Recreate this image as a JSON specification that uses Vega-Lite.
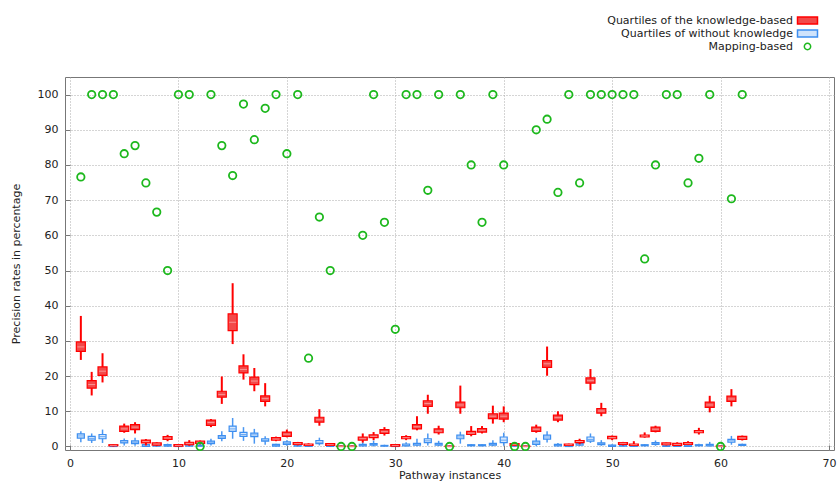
{
  "$schema": "https://vega.github.io/schema/vega-lite/v6.json",
  "autosize": "none",
  "width": 769,
  "height": 373,
  "padding": {"left": 65, "top": 77, "right": 6, "bottom": 34},
  "background": "white",
  "config": {
    "font": "DejaVu Sans",
    "view": {"stroke": "#777", "strokeWidth": 1},
    "axis": {
      "labelFont": "DejaVu Sans", "labelFontSize": 11, "labelColor": "#222",
      "titleFont": "DejaVu Sans", "titleFontSize": 11, "titleFontWeight": "normal", "titleColor": "#222",
      "grid": true, "gridColor": "#aaa", "gridDash": [1, 2], "gridWidth": 1,
      "domain": false, "tickColor": "#777", "tickSize": -5
    },
    "axisY": {"tickCount": 11},
    "legend": {
      "title": null, "orient": "none", "legendX": 737, "legendY": -62,
      "labelAlign": "right", "labelOffset": -20, "labelFontSize": 11, "labelFont": "DejaVu Sans", "labelColor": "#222",
      "labelLimit": 400, "symbolSize": 40, "rowPadding": 0, "symbolStrokeWidth": 1.5, "symbolOpacity": 1
    }
  },
  "data": {"values": [
    {"i":1,"rmin":24.6,"rq1":27.0,"rmed":28.3,"rq3":29.7,"rmax":37.1,"bmin":1.2,"bq1":2.4,"bmed":3.0,"bq3":3.6,"bmax":4.3,"g":76.6},
    {"i":2,"rmin":14.5,"rq1":16.6,"rmed":17.6,"rq3":18.7,"rmax":21.2,"bmin":1.0,"bq1":1.8,"bmed":2.3,"bq3":2.9,"bmax":3.7,"g":100},
    {"i":3,"rmin":18.2,"rq1":20.2,"rmed":21.4,"rq3":22.6,"rmax":26.5,"bmin":1.0,"bq1":2.2,"bmed":2.8,"bq3":3.4,"bmax":4.8,"g":100},
    {"i":4,"rmin":0,"rq1":0.2,"rmed":0.3,"rq3":0.5,"rmax":0.6,"bmin":0,"bq1":0,"bmed":0.1,"bq3":0.3,"bmax":0.4,"g":100},
    {"i":5,"rmin":3.9,"rq1":4.3,"rmed":5.0,"rq3":5.8,"rmax":6.5,"bmin":0.3,"bq1":1.0,"bmed":1.3,"bq3":1.7,"bmax":2.3,"g":83.2},
    {"i":6,"rmin":3.7,"rq1":4.8,"rmed":5.5,"rq3":6.2,"rmax":6.9,"bmin":0.2,"bq1":0.8,"bmed":1.2,"bq3":1.6,"bmax":2.5,"g":85.5},
    {"i":7,"rmin":0.3,"rq1":1.0,"rmed":1.4,"rq3":1.8,"rmax":2.1,"bmin":0,"bq1":0,"bmed":0.2,"bq3":0.5,"bmax":1.2,"g":74.9},
    {"i":8,"rmin":0.1,"rq1":0.4,"rmed":0.7,"rq3":1.0,"rmax":1.2,"bmin":0,"bq1":0.1,"bmed":0.3,"bq3":0.6,"bmax":1.0,"g":66.6},
    {"i":9,"rmin":1.5,"rq1":2.0,"rmed":2.4,"rq3":2.8,"rmax":3.3,"bmin":0,"bq1":0.1,"bmed":0.3,"bq3":0.5,"bmax":0.8,"g":50.0},
    {"i":10,"rmin":0,"rq1":0.1,"rmed":0.3,"rq3":0.5,"rmax":0.6,"bmin":0,"bq1":0,"bmed":0.1,"bq3":0.3,"bmax":0.4,"g":100},
    {"i":11,"rmin":0.2,"rq1":0.5,"rmed":0.8,"rq3":1.2,"rmax":1.8,"bmin":0,"bq1":0.1,"bmed":0.3,"bq3":0.6,"bmax":1.2,"g":100},
    {"i":12,"rmin":0.6,"rq1":0.9,"rmed":1.2,"rq3":1.5,"rmax":1.7,"bmin":0,"bq1":0.1,"bmed":0.2,"bq3":0.4,"bmax":0.6,"g":0},
    {"i":13,"rmin":5.5,"rq1":6.0,"rmed":6.8,"rq3":7.5,"rmax":7.8,"bmin":0.3,"bq1":0.8,"bmed":1.2,"bq3":1.5,"bmax":2.2,"g":100},
    {"i":14,"rmin":12.1,"rq1":14.0,"rmed":14.8,"rq3":15.7,"rmax":19.9,"bmin":1.5,"bq1":2.3,"bmed":2.7,"bq3":3.1,"bmax":4.3,"g":85.5},
    {"i":15,"rmin":29.1,"rq1":32.9,"rmed":35.3,"rq3":37.7,"rmax":46.4,"bmin":2.2,"bq1":4.3,"bmed":5.0,"bq3":5.8,"bmax":8.1,"g":77.0},
    {"i":16,"rmin":19.0,"rq1":20.9,"rmed":21.9,"rq3":22.9,"rmax":26.2,"bmin":1.6,"bq1":2.9,"bmed":3.4,"bq3":4.0,"bmax":5.5,"g":97.3},
    {"i":17,"rmin":15.7,"rq1":17.6,"rmed":18.6,"rq3":19.7,"rmax":22.3,"bmin":0.8,"bq1":2.8,"bmed":3.3,"bq3":3.8,"bmax":5.0,"g":87.2},
    {"i":18,"rmin":11.4,"rq1":12.8,"rmed":13.6,"rq3":14.4,"rmax":18.0,"bmin":0.5,"bq1":1.5,"bmed":1.8,"bq3":2.2,"bmax":2.9,"g":96.1},
    {"i":19,"rmin":1.5,"rq1":1.8,"rmed":2.1,"rq3":2.5,"rmax":2.8,"bmin":0,"bq1":0.1,"bmed":0.3,"bq3":0.6,"bmax":0.8,"g":100},
    {"i":20,"rmin":2.6,"rq1":2.9,"rmed":3.5,"rq3":4.1,"rmax":4.8,"bmin":0.2,"bq1":0.6,"bmed":0.9,"bq3":1.3,"bmax":1.8,"g":83.2},
    {"i":21,"rmin":0.3,"rq1":0.6,"rmed":0.8,"rq3":1.1,"rmax":1.3,"bmin":0,"bq1":0.1,"bmed":0.3,"bq3":0.5,"bmax":0.7,"g":100},
    {"i":22,"rmin":0.1,"rq1":0.3,"rmed":0.5,"rq3":0.7,"rmax":0.9,"bmin":0,"bq1":0,"bmed":0.2,"bq3":0.4,"bmax":0.5,"g":25.1},
    {"i":23,"rmin":5.9,"rq1":6.9,"rmed":7.6,"rq3":8.3,"rmax":10.6,"bmin":0.3,"bq1":0.8,"bmed":1.2,"bq3":1.7,"bmax":2.5,"g":65.2},
    {"i":24,"rmin":0.1,"rq1":0.3,"rmed":0.5,"rq3":0.8,"rmax":0.9,"bmin":0,"bq1":0,"bmed":0.2,"bq3":0.4,"bmax":0.5,"g":50.0},
    {"i":25,"rmin":0,"rq1":0,"rmed":0,"rq3":0.1,"rmax":0.2,"bmin":0,"bq1":0,"bmed":0,"bq3":0.1,"bmax":0.2,"g":0},
    {"i":26,"rmin":0,"rq1":0,"rmed":0,"rq3":0.1,"rmax":0.2,"bmin":0,"bq1":0,"bmed":0,"bq3":0.1,"bmax":0.2,"g":0},
    {"i":27,"rmin":1.1,"rq1":1.8,"rmed":2.2,"rq3":2.7,"rmax":3.7,"bmin":0,"bq1":0.2,"bmed":0.4,"bq3":0.6,"bmax":1.2,"g":60.0},
    {"i":28,"rmin":1.8,"rq1":2.5,"rmed":2.9,"rq3":3.3,"rmax":4.1,"bmin":0,"bq1":0.4,"bmed":0.6,"bq3":0.8,"bmax":1.7,"g":100},
    {"i":29,"rmin":3.1,"rq1":3.7,"rmed":4.2,"rq3":4.8,"rmax":5.5,"bmin":0,"bq1":0.1,"bmed":0.2,"bq3":0.3,"bmax":0.5,"g":63.7},
    {"i":30,"rmin":0,"rq1":0.1,"rmed":0.3,"rq3":0.5,"rmax":0.6,"bmin":0,"bq1":0,"bmed":0.1,"bq3":0.3,"bmax":0.4,"g":33.3},
    {"i":31,"rmin":1.8,"rq1":2.2,"rmed":2.5,"rq3":2.8,"rmax":3.2,"bmin":0,"bq1":0.2,"bmed":0.4,"bq3":0.7,"bmax":1.2,"g":100},
    {"i":32,"rmin":4.6,"rq1":5.0,"rmed":5.6,"rq3":6.2,"rmax":8.6,"bmin":0.1,"bq1":0.4,"bmed":0.7,"bq3":0.9,"bmax":2.2,"g":100},
    {"i":33,"rmin":9.3,"rq1":11.4,"rmed":12.2,"rq3":13.0,"rmax":14.7,"bmin":0.3,"bq1":1.1,"bmed":1.6,"bq3":2.2,"bmax":3.7,"g":72.8},
    {"i":34,"rmin":3.4,"rq1":3.9,"rmed":4.4,"rq3":5.0,"rmax":5.9,"bmin":0.1,"bq1":0.4,"bmed":0.6,"bq3":0.9,"bmax":1.6,"g":100},
    {"i":35,"rmin":0,"rq1":0,"rmed":0,"rq3":0.1,"rmax":0.2,"bmin":0,"bq1":0,"bmed":0,"bq3":0.1,"bmax":0.2,"g":0},
    {"i":36,"rmin":9.3,"rq1":11.0,"rmed":11.8,"rq3":12.6,"rmax":17.3,"bmin":0.8,"bq1":2.2,"bmed":2.7,"bq3":3.2,"bmax":4.2,"g":100},
    {"i":37,"rmin":2.9,"rq1":3.4,"rmed":3.8,"rq3":4.3,"rmax":5.8,"bmin":0,"bq1":0.2,"bmed":0.3,"bq3":0.5,"bmax":0.7,"g":80.0},
    {"i":38,"rmin":3.7,"rq1":4.1,"rmed":4.6,"rq3":5.1,"rmax":5.8,"bmin":0,"bq1":0.2,"bmed":0.3,"bq3":0.5,"bmax":0.7,"g":63.7},
    {"i":39,"rmin":6.5,"rq1":7.9,"rmed":8.6,"rq3":9.3,"rmax":11.6,"bmin":0.1,"bq1":0.4,"bmed":0.6,"bq3":0.9,"bmax":1.8,"g":100},
    {"i":40,"rmin":6.9,"rq1":7.8,"rmed":8.6,"rq3":9.5,"rmax":11.4,"bmin":0.2,"bq1":1.1,"bmed":1.8,"bq3":2.7,"bmax":3.9,"g":80.0},
    {"i":41,"rmin":0.1,"rq1":0.3,"rmed":0.5,"rq3":0.8,"rmax":0.9,"bmin":0,"bq1":0.1,"bmed":0.2,"bq3":0.4,"bmax":0.5,"g":0},
    {"i":42,"rmin":0,"rq1":0,"rmed":0,"rq3":0.1,"rmax":0.2,"bmin":0,"bq1":0,"bmed":0,"bq3":0.1,"bmax":0.2,"g":0},
    {"i":43,"rmin":3.9,"rq1":4.3,"rmed":4.9,"rq3":5.5,"rmax":6.2,"bmin":0.1,"bq1":0.6,"bmed":1.0,"bq3":1.5,"bmax":2.5,"g":90.0},
    {"i":44,"rmin":20.1,"rq1":22.5,"rmed":23.5,"rq3":24.4,"rmax":28.4,"bmin":1.1,"bq1":2.1,"bmed":2.7,"bq3":3.2,"bmax":4.3,"g":93.0},
    {"i":45,"rmin":6.9,"rq1":7.5,"rmed":8.2,"rq3":8.9,"rmax":10.0,"bmin":0,"bq1":0.2,"bmed":0.4,"bq3":0.6,"bmax":1.0,"g":72.2},
    {"i":46,"rmin":0.1,"rq1":0.3,"rmed":0.5,"rq3":0.7,"rmax":0.8,"bmin":0,"bq1":0,"bmed":0.2,"bq3":0.3,"bmax":0.4,"g":100},
    {"i":47,"rmin":0.6,"rq1":1.1,"rmed":1.4,"rq3":1.7,"rmax":2.2,"bmin":0.1,"bq1":0.4,"bmed":0.7,"bq3":0.9,"bmax":1.5,"g":74.9},
    {"i":48,"rmin":16.0,"rq1":18.0,"rmed":18.7,"rq3":19.5,"rmax":22.0,"bmin":1.0,"bq1":1.5,"bmed":2.0,"bq3":2.7,"bmax":3.7,"g":100},
    {"i":49,"rmin":8.6,"rq1":9.5,"rmed":10.1,"rq3":10.8,"rmax":12.4,"bmin":0.2,"bq1":0.5,"bmed":0.8,"bq3":1.0,"bmax":1.8,"g":100},
    {"i":50,"rmin":1.8,"rq1":2.2,"rmed":2.5,"rq3":2.9,"rmax":3.1,"bmin":0,"bq1":0,"bmed":0.2,"bq3":0.4,"bmax":0.6,"g":100},
    {"i":51,"rmin":0.3,"rq1":0.6,"rmed":0.9,"rq3":1.1,"rmax":1.3,"bmin":0,"bq1":0.1,"bmed":0.3,"bq3":0.5,"bmax":0.6,"g":100},
    {"i":52,"rmin":0.1,"rq1":0.3,"rmed":0.5,"rq3":0.7,"rmax":1.5,"bmin":0,"bq1":0,"bmed":0.2,"bq3":0.4,"bmax":0.6,"g":100},
    {"i":53,"rmin":2.5,"rq1":2.7,"rmed":3.0,"rq3":3.2,"rmax":4.0,"bmin":0,"bq1":0.2,"bmed":0.3,"bq3":0.5,"bmax":0.7,"g":53.3},
    {"i":54,"rmin":4.0,"rq1":4.3,"rmed":4.9,"rq3":5.5,"rmax":5.9,"bmin":0.2,"bq1":0.6,"bmed":0.9,"bq3":1.1,"bmax":1.7,"g":80.0},
    {"i":55,"rmin":0.3,"rq1":0.5,"rmed":0.7,"rq3":1.0,"rmax":1.1,"bmin":0,"bq1":0,"bmed":0.2,"bq3":0.4,"bmax":0.5,"g":100},
    {"i":56,"rmin":0.2,"rq1":0.3,"rmed":0.6,"rq3":0.9,"rmax":1.2,"bmin":0,"bq1":0,"bmed":0.2,"bq3":0.4,"bmax":0.5,"g":100},
    {"i":57,"rmin":0.4,"rq1":0.6,"rmed":0.8,"rq3":1.1,"rmax":1.5,"bmin":0,"bq1":0,"bmed":0.2,"bq3":0.4,"bmax":0.5,"g":74.9},
    {"i":58,"rmin":3.4,"rq1":3.9,"rmed":4.2,"rq3":4.5,"rmax":5.3,"bmin":0,"bq1":0.2,"bmed":0.3,"bq3":0.5,"bmax":0.8,"g":81.9},
    {"i":59,"rmin":9.7,"rq1":11.1,"rmed":11.8,"rq3":12.6,"rmax":14.4,"bmin":0,"bq1":0.2,"bmed":0.4,"bq3":0.6,"bmax":1.3,"g":100},
    {"i":60,"rmin":0,"rq1":0,"rmed":0,"rq3":0.1,"rmax":0.2,"bmin":0,"bq1":0,"bmed":0,"bq3":0.1,"bmax":0.2,"g":0},
    {"i":61,"rmin":11.4,"rq1":12.8,"rmed":13.5,"rq3":14.3,"rmax":16.3,"bmin":0.5,"bq1":1.2,"bmed":1.6,"bq3":2.0,"bmax":3.0,"g":70.4},
    {"i":62,"rmin":1.7,"rq1":2.0,"rmed":2.4,"rq3":2.9,"rmax":3.1,"bmin":0.1,"bq1":0.3,"bmed":0.4,"bq3":0.6,"bmax":0.8,"g":100}
  ]},
  "encoding": {
    "x": {"field": "i", "type": "quantitative",
      "scale": {"domain": [0, 70], "nice": false, "zero": false},
      "axis": {"values": [0,10,20,30,40,50,60,70], "title": "Pathway instances", "labelPadding": 12, "titlePadding": 1}}
  },
  "layer": [
    {
      "mark": {"type": "rule", "strokeWidth": 1.5, "color": "#4a97f2"},
      "encoding": {
        "y": {"field": "bmin", "type": "quantitative",
          "scale": {"domain": [-1, 105], "nice": false, "zero": false},
          "axis": {"values": [0,10,20,30,40,50,60,70,80,90,100], "title": "Precision rates in percentage", "labelPadding": 12, "titlePadding": 16}},
        "y2": {"field": "bmax"}
      }
    },
    {
      "mark": {"type": "bar", "size": 7, "stroke": "#3d8ef0", "strokeWidth": 1.2, "fill": "#d6e8fd"},
      "encoding": {
        "y": {"field": "bq1", "type": "quantitative",
          "axis": {"values": [0,10,20,30,40,50,60,70,80,90,100], "title": "Precision rates in percentage", "labelPadding": 12, "titlePadding": 16}},
        "y2": {"field": "bq3"}
      }
    },
    {
      "mark": {"type": "tick", "orient": "horizontal", "size": 6, "thickness": 1, "color": "#3d8ef0"},
      "encoding": {"y": {"field": "bmed", "type": "quantitative",
          "axis": {"values": [0,10,20,30,40,50,60,70,80,90,100], "title": "Precision rates in percentage", "labelPadding": 12, "titlePadding": 16}}}
    },
    {
      "mark": {"type": "rule", "strokeWidth": 2, "color": "#ff0000"},
      "encoding": {
        "y": {"field": "rmin", "type": "quantitative",
          "axis": {"values": [0,10,20,30,40,50,60,70,80,90,100], "title": "Precision rates in percentage", "labelPadding": 12, "titlePadding": 16}},
        "y2": {"field": "rmax"}
      }
    },
    {
      "mark": {"type": "bar", "size": 9, "stroke": "#ff0000", "strokeWidth": 1.2, "fill": "#f24a4a"},
      "encoding": {
        "y": {"field": "rq1", "type": "quantitative",
          "axis": {"values": [0,10,20,30,40,50,60,70,80,90,100], "title": "Precision rates in percentage", "labelPadding": 12, "titlePadding": 16}},
        "y2": {"field": "rq3"}
      }
    },
    {
      "mark": {"type": "tick", "orient": "horizontal", "size": 7, "thickness": 1, "color": "#ffb4b4"},
      "encoding": {"y": {"field": "rmed", "type": "quantitative",
          "axis": {"values": [0,10,20,30,40,50,60,70,80,90,100], "title": "Precision rates in percentage", "labelPadding": 12, "titlePadding": 16}}}
    },
    {
      "mark": {"type": "point", "size": 55, "strokeWidth": 1.8, "opacity": 1},
      "encoding": {
        "y": {"field": "g", "type": "quantitative",
          "axis": {"values": [0,10,20,30,40,50,60,70,80,90,100], "title": "Precision rates in percentage", "labelPadding": 12, "titlePadding": 16}},
        "stroke": {"datum": "Mapping-based", "type": "nominal",
          "scale": {"domain": ["Quartiles of the knowledge-based", "Quartiles of without knowledge", "Mapping-based"],
                    "range": ["#ff0000", "#3d8ef0", "#1db81d"]}},
        "fill": {"datum": "Mapping-based", "type": "nominal",
          "scale": {"domain": ["Quartiles of the knowledge-based", "Quartiles of without knowledge", "Mapping-based"],
                    "range": ["#f24a4a", "#cfe3fb", "transparent"]}},
        "shape": {"datum": "Mapping-based", "type": "nominal",
          "scale": {"domain": ["Quartiles of the knowledge-based", "Quartiles of without knowledge", "Mapping-based"],
                    "range": ["M-3.16,-1.1H3.16V1.1H-3.16Z", "M-3.16,-1.1H3.16V1.1H-3.16Z", "circle"]}}
      }
    }
  ]
}
